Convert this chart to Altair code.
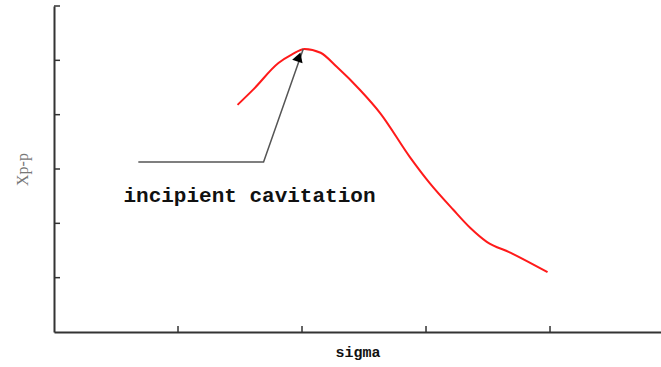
import altair as alt
import pandas as pd

# red curve (sigma vs Xp-p)
sigma = [1.48, 1.61, 1.81, 1.92, 2.02, 2.15, 2.28, 2.47, 2.63, 2.87, 3.03, 3.22, 3.36, 3.49, 3.68, 3.98]
xpp   = [4.18, 4.47, 4.95, 5.11, 5.21, 5.14, 4.88, 4.45, 4.03, 3.22, 2.74, 2.25, 1.91, 1.66, 1.46, 1.10]

# annotation leader line (start, corner, tip)
ann_x = [0.68, 1.69, 2.01]
ann_y = [3.13, 3.13, 5.21]
ann_label = "incipient cavitation"
label_x = [0.56]
label_y = [2.50]

x_ticks = [1, 2, 3, 4]
y_ticks = [1, 2, 3, 4, 5, 6]

X_MAX = 4.895
Y_MAX = 6

W, H = 607, 326

curve = pd.DataFrame({"sigma": sigma, "xpp": xpp})
ann = pd.DataFrame({"x": ann_x, "y": ann_y, "order": list(range(len(ann_x)))})
head = pd.DataFrame({"x": [ann_x[-1] - 0.035], "y": [ann_y[-1] - 0.15]})
lab = pd.DataFrame({"x": label_x, "y": label_y, "t": [ann_label]})
xt = pd.DataFrame({"v": x_ticks})
yt = pd.DataFrame({"v": y_ticks})

xs = alt.Scale(domain=[0, X_MAX], nice=False, zero=False)
ys = alt.Scale(domain=[0, Y_MAX], nice=False, zero=False)

xaxis = alt.Axis(labels=False, ticks=False, grid=False, domainColor="#333333", domainWidth=2,
                 title="sigma", titleFont="Liberation Mono", titleFontWeight="bold",
                 titleFontSize=15, titleColor="#111111", titlePadding=12)
yaxis = alt.Axis(labels=False, ticks=False, grid=False, domainColor="#333333", domainWidth=2,
                 title="Xp-p", titleFont="Liberation Serif", titleFontWeight="normal",
                 titleFontSize=16, titleColor="#777777", titlePadding=24)

line = alt.Chart(curve).mark_line(color="#ff1a1a", strokeWidth=2, interpolate="monotone").encode(
    x=alt.X("sigma:Q", scale=xs, axis=xaxis),
    y=alt.Y("xpp:Q", scale=ys, axis=yaxis),
)

leader = alt.Chart(ann).mark_line(color="#555555", strokeWidth=1.5).encode(
    x=alt.X("x:Q", scale=xs), y=alt.Y("y:Q", scale=ys), order="order:Q"
)

arrow = alt.Chart(head).mark_point(shape="triangle-up", filled=True, color="#000000",
                                   size=120, angle=19, opacity=1).encode(
    x=alt.X("x:Q", scale=xs), y=alt.Y("y:Q", scale=ys)
)

text = alt.Chart(lab).mark_text(font="Liberation Mono", fontSize=21, fontWeight="bold",
                                 align="left", baseline="middle", color="#111111").encode(
    x=alt.X("x:Q", scale=xs), y=alt.Y("y:Q", scale=ys), text="t:N"
)

xtick = alt.Chart(xt).mark_rule(color="#333333", strokeWidth=1.5).encode(
    x=alt.X("v:Q", scale=xs), y=alt.value(H), y2=alt.value(H - 6)
)
ytick = alt.Chart(yt).mark_rule(color="#333333", strokeWidth=1.5).encode(
    y=alt.Y("v:Q", scale=ys), x=alt.value(0), x2=alt.value(6)
)

chart = alt.layer(line, leader, arrow, text, xtick, ytick).properties(
    width=W, height=H,
    autosize=alt.AutoSizeParams(type="none"),
    padding={"left": 54, "top": 6, "right": 0, "bottom": 35},
    background="white",
).configure_view(stroke=None)

chart.save("out.html", embed_options={"renderer": "svg", "actions": False})
